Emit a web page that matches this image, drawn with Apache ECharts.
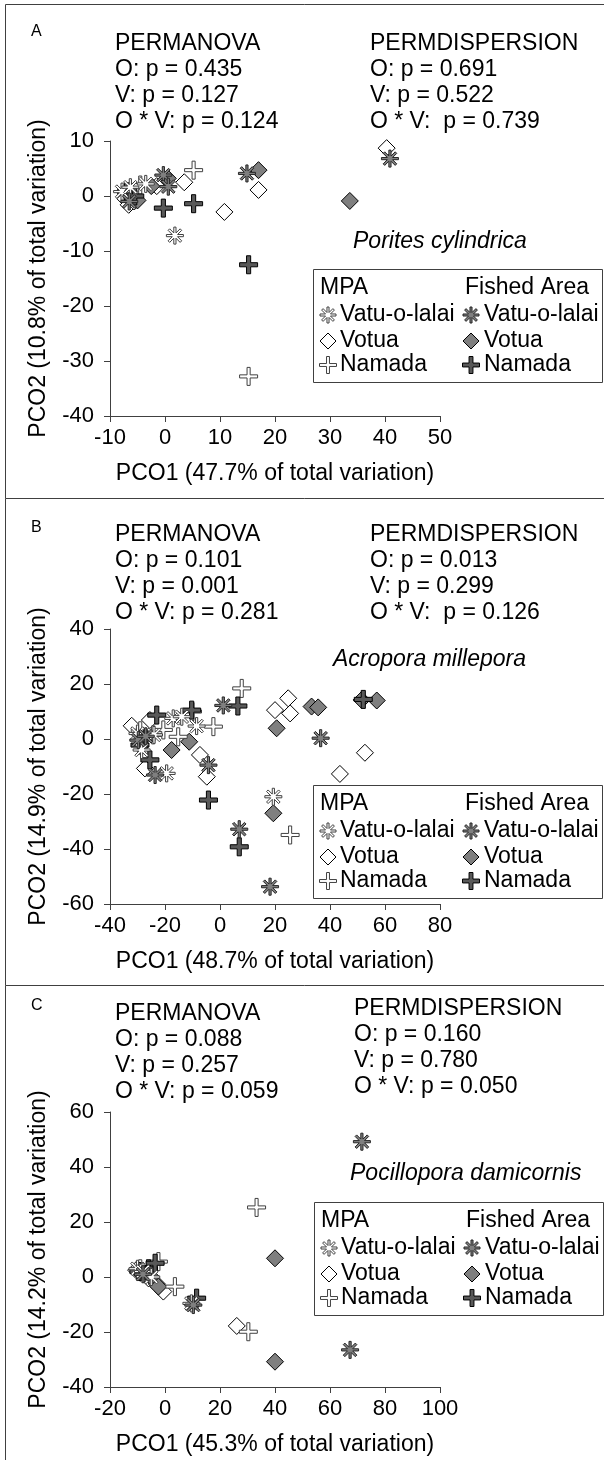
<!DOCTYPE html>
<html><head><meta charset="utf-8">
<script src="https://cdn.jsdelivr.net/npm/echarts@6/dist/echarts.min.js"></script>
<style>html,body{margin:0;padding:0;background:#fff}#c{width:604px;height:1460px}</style>
</head><body><div id="c"></div>
<script>
// ---------------- DATA ----------------
const seriesNames = ['MPA Votua','Fished Votua','MPA Namada','Fished Namada','MPA Vatu-o-lalai','Fished Vatu-o-lalai'];
const panelLetters = ['A','B','C'];
const speciesNames = ['Porites cylindrica','Acropora millepora','Pocillopora damicornis'];
const xTitles = ['PCO1 (47.7% of total variation)','PCO1 (48.7% of total variation)','PCO1 (45.3% of total variation)'];
const yTitles = ['PCO2 (10.8% of total variation)','PCO2 (14.9% of total variation)','PCO2 (14.2% of total variation)'];
const permanovaA = ['PERMANOVA','O: p = 0.435','V: p = 0.127','O * V: p = 0.124'];
const permdispA  = ['PERMDISPERSION','O: p = 0.691','V: p = 0.522','O * V:  p = 0.739'];
const permanovaB = ['PERMANOVA','O: p = 0.101','V: p = 0.001','O * V: p = 0.281'];
const permdispB  = ['PERMDISPERSION','O: p = 0.013','V: p = 0.299','O * V:  p = 0.126'];
const permanovaC = ['PERMANOVA','O: p = 0.088','V: p = 0.257','O * V: p = 0.059'];
const permdispC  = ['PERMDISPERSION','O: p = 0.160','V: p = 0.780','O * V: p = 0.050'];
const xRangeA = [-10, 50, 10], yRangeA = [-40, 10, 10];
const xRangeB = [-40, 80, 20], yRangeB = [-60, 40, 20];
const xRangeC = [-20, 100, 20], yRangeC = [-40, 60, 20];

// Panel A (Porites cylindrica)
const A_mpaVatu    = [[-7.8,0.8],[-6.3,1.6],[-3.5,2.2],[1.8,-7.2]];
const A_mpaVotua   = [[-7.2,-0.5],[-6.6,-1.6],[-5.6,-1.0],[-1.5,1.8],[3.5,2.5],[10.8,-2.9],[17.0,1.1],[40.3,8.7]];
const A_mpaNamada  = [[-6.0,0.6],[-4.5,2.0],[5.2,4.7],[15.2,-32.8]];
const A_fishVatu   = [[-6.5,-1.0],[-0.3,3.8],[0.6,1.7],[14.9,4.1],[40.9,6.8]];
const A_fishVotua  = [[-5.0,-0.8],[-2.5,1.8],[0.5,3.2],[17.0,4.7],[33.6,-0.9]];
const A_fishNamada = [[-7.0,0.8],[-5.5,0.0],[-0.3,-2.2],[5.2,-1.4],[15.2,-12.5]];

// Panel B (Acropora millepora)
const B_mpaVatu    = [[-30.0,2.0],[-28.5,-4.0],[-24.0,1.5],[-17.0,7.5],[-13.9,8.1],[-8.5,4.7],[-19.4,-12.5],[19.4,-21.0]];
const B_mpaVotua   = [[-32.1,4.8],[-25.5,6.9],[-27.3,-10.7],[-7.3,-5.8],[-4.8,-13.7],[20.0,10.5],[24.8,14.8],[25.5,9.3],[52.7,-5.0],[43.6,-12.7]];
const B_mpaNamada  = [[-29.0,3.0],[-24.3,1.5],[-20.6,3.3],[-15.2,0.8],[-10.0,10.0],[-2.4,4.5],[7.9,18.4],[25.5,-34.9]];
const B_fishVatu   = [[-29.7,-0.4],[-27.0,1.0],[-23.6,-13.1],[-4.2,-9.5],[1.2,12.2],[7.0,-32.8],[18.2,-53.7],[36.6,0.3]];
const B_fishVotua  = [[-17.6,-4.0],[-11.2,-1.0],[20.6,3.9],[19.4,-27.0],[33.3,11.8],[35.7,11.5],[51.5,14.2],[57.0,14.0]];
const B_fishNamada = [[-29.1,-2.2],[-27.0,0.0],[-23.0,8.7],[-25.5,-7.6],[-10.3,10.5],[-4.2,-22.2],[6.5,12.0],[7.0,-39.2],[52.1,14.4]];

// Panel C (Pocillopora damicornis)
const C_mpaVatu    = [[-10.0,3.0],[-8.0,2.0],[-5.0,0.0],[9.6,-9.6]];
const C_mpaVotua   = [[-10.5,2.5],[-9.0,1.5],[-6.0,-0.5],[-3.0,-2.5],[-0.6,-5.3],[26.1,-17.8]];
const C_mpaNamada  = [[-9.0,3.0],[-2.4,5.6],[3.6,-3.5],[30.3,-19.9],[33.3,25.3]];
const C_fishVatu   = [[-8.0,1.0],[10.3,-10.2],[67.3,-26.5],[71.6,49.2]];
const C_fishVotua  = [[-7.3,1.3],[-5.0,0.0],[-2.4,-3.5],[40.0,6.8],[40.0,-30.8]];
const C_fishNamada = [[-9.5,2.0],[-6.0,3.0],[-3.6,5.0],[11.5,-7.7]];

// ---------------- STYLE ----------------
function asteriskPts(n, R, w){
  const step = 2*Math.PI/n, ri = w/Math.sin(step/2);
  let pts = [];
  for(let k=0;k<n;k++){
    const a = k*step - Math.PI/2;
    const dx=Math.cos(a), dy=Math.sin(a), nx=-Math.sin(a), ny=Math.cos(a);
    pts.push([R*dx - w*nx, R*dy - w*ny]);
    pts.push([R*dx + w*nx, R*dy + w*ny]);
    const b = a + step/2;
    pts.push([ri*Math.cos(b), ri*Math.sin(b)]);
  }
  return pts;
}
function plusPts(R, w){
  return [[-w,-R],[w,-R],[w,-w],[R,-w],[R,w],[w,w],[w,R],[-w,R],[-w,w],[-R,w],[-R,-w],[-w,-w]];
}
const diamondPts = [[0,-7],[7,0],[0,7],[-7,0]];
function toPath(pts){ return 'path://M' + pts.map(p=>p[0].toFixed(3)+' '+p[1].toFixed(3)).join(' L') + ' Z'; }
const asterP = asteriskPts(8, 7, 0.9);
const plusP = plusPts(7, 1.2);
const plusThickP = plusPts(7, 1.6);

const styles = {
  'MPA Votua':          {pts: diamondPts, size: 17, fill:'#ffffff', stroke:'#000000', lw:1},
  'Fished Votua':       {pts: diamondPts, size: 17, fill:'#7f7f7f', stroke:'#000000', lw:1},
  'MPA Namada':         {pts: plusP,      size: 18, fill:'#ffffff', stroke:'#404040', lw:1},
  'Fished Namada':      {pts: plusThickP, size: 18, fill:'#595959', stroke:'#000000', lw:1},
  'MPA Vatu-o-lalai':   {pts: asterP,     size: 17, fill:'#ffffff', stroke:'#404040', lw:1},
  'Fished Vatu-o-lalai':{pts: asterP,     size: 17, fill:'#7f7f7f', stroke:'#262626', lw:1}
};
function scaledPts(pts, s, cx, cy){
  const k = s/14;
  return pts.map(p=>[cx + p[0]*k, cy + p[1]*k]);
}

const FONT = '"Liberation Sans", Arial, sans-serif';
const FS = 23;      // text size
const TFS = 22;     // tick label size
const panels = [
  {top:141, xr:xRangeA, yr:yRangeA, data:[A_mpaVotua,A_fishVotua,A_mpaNamada,A_fishNamada,A_mpaVatu,A_fishVatu],
   stats:[permanovaA, permdispA], statRows:[44,70,96,122], statDx:[115,370], dispDy:0, letterY:32,
   species:[353,242], legend:[313,269], border:[4.5,498.5]},
  {top:629, xr:xRangeB, yr:yRangeB, data:[B_mpaVotua,B_fishVotua,B_mpaNamada,B_fishNamada,B_mpaVatu,B_fishVatu],
   stats:[permanovaB, permdispB], statRows:[535,561,587,613], statDx:[115,370], dispDy:0, letterY:528,
   species:[333,660], legend:[313,785], border:[498.5,985.5]},
  {top:1112, xr:xRangeC, yr:yRangeC, data:[C_mpaVotua,C_fishVotua,C_mpaNamada,C_fishNamada,C_mpaVatu,C_fishVatu],
   stats:[permanovaC, permdispC], statRows:[1014,1040,1066,1092], statDx:[115,354], dispDy:-5, letterY:1006,
   species:[350,1174], legend:[314,1202], border:[985.5,1460]}
];

const grids=[], xAxes=[], yAxes=[], series=[], graphics=[];
const axisColor = '#404040';
function txt(t, x, y, font, z){
  return {type:'text', z:z||1, style:{text:t, x:x, y:y, font:font, fill:'#000', textVerticalAlign:'middle', verticalAlign:'middle'}};
}
panels.forEach((p, i) => {
  grids.push({left:110, width:330, top:p.top, height:275});
  xAxes.push({type:'value', gridIndex:i, min:p.xr[0], max:p.xr[1], interval:p.xr[2],
    splitLine:{show:false}, axisLine:{onZero:false, lineStyle:{color:axisColor, width:1}},
    axisTick:{show:true, length:6, lineStyle:{color:axisColor}},
    axisLabel:{color:'#000', fontSize:TFS, fontFamily:FONT, margin:11},
    name:xTitles[i], nameLocation:'middle', nameGap:46,
    nameTextStyle:{color:'#000', fontSize:FS, fontFamily:FONT}});
  yAxes.push({type:'value', gridIndex:i, min:p.yr[0], max:p.yr[1], interval:p.yr[2],
    splitLine:{show:false}, axisLine:{show:true, onZero:false, lineStyle:{color:axisColor, width:1}},
    axisTick:{show:true, length:6, lineStyle:{color:axisColor}},
    axisLabel:{color:'#000', fontSize:TFS, fontFamily:FONT, margin:16},
    name:yTitles[i], nameLocation:'middle', nameGap:60,
    nameTextStyle:{color:'#000', fontSize:FS, fontFamily:FONT}});
  p.data.forEach((arr, k) => {
    const st = styles[seriesNames[k]];
    series.push({type:'scatter', name:seriesNames[k]+' '+panelLetters[i], xAxisIndex:i, yAxisIndex:i,
      data:arr, symbol:toPath(st.pts), symbolSize:st.size, silent:true, animation:false,
      itemStyle:{color:st.fill, borderColor:st.stroke, borderWidth:st.lw, opacity:1}});
  });
  graphics.push({type:'line', shape:{x1:5.5, y1:p.border[0], x2:604, y2:p.border[0]}, style:{stroke:'#404040', lineWidth:1}});
  graphics.push({type:'line', shape:{x1:5.5, y1:p.border[0], x2:5.5, y2:p.border[1]}, style:{stroke:'#404040', lineWidth:1}});
  graphics.push(txt(panelLetters[i], 31, p.letterY, '16px '+FONT));
  p.stats.forEach((col, c) => {
    col.forEach((t, r) => {
      graphics.push(txt(t, p.statDx[c], p.statRows[r] + (c===1?p.dispDy:0), FS+'px '+FONT));
    });
  });
  graphics.push(txt(speciesNames[i], p.species[0], p.species[1], 'italic '+FS+'px '+FONT));
  const lx = p.legend[0], ly = p.legend[1];
  graphics.push({type:'rect', shape:{x:lx+0.5, y:ly+0.5, width:289, height:113}, style:{fill:'#fff', stroke:'#404040', lineWidth:1}, z:10});
  const rowsY = [19, 46, 72, 96];
  graphics.push(txt('MPA', lx+7, ly+rowsY[0], FS+'px '+FONT, 11));
  graphics.push(txt('Fished Area', lx+152, ly+rowsY[0], FS+'px '+FONT, 11));
  const legMpa = [['MPA Vatu-o-lalai','Vatu-o-lalai'],['MPA Votua','Votua'],['MPA Namada','Namada']];
  const legFish = [['Fished Vatu-o-lalai','Vatu-o-lalai'],['Fished Votua','Votua'],['Fished Namada','Namada']];
  [legMpa, legFish].forEach((grp, c) => {
    const sx = c===0 ? lx+15 : lx+158;
    const tx = c===0 ? lx+27 : lx+171;
    grp.forEach((e, r) => {
      const st = styles[e[0]];
      const cy = ly + rowsY[r+1];
      graphics.push({type:'polygon', z:11, shape:{points:scaledPts(st.pts, st.size-1, sx, cy)},
        style:{fill:st.fill, stroke:st.stroke, lineWidth:st.lw}});
      graphics.push(txt(e[1], tx, cy, FS+'px '+FONT, 11));
    });
  });
});

const chart = echarts.init(document.getElementById('c'), null, {renderer:'canvas'});
chart.setOption({
  backgroundColor:'#fff', animation:false,
  grid:grids, xAxis:xAxes, yAxis:yAxes, series:series, graphic:graphics
});
</script></body></html>
